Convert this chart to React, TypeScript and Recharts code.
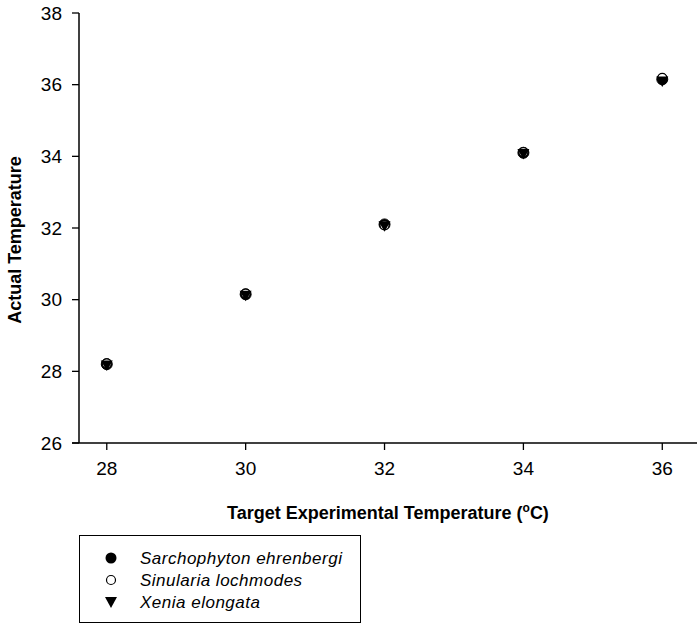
import React from "react";
import { ScatterChart, Scatter, XAxis, YAxis, ReferenceLine } from "recharts";

const targets = [28, 30, 32, 34, 36];
const sarchophyton = [28.2, 30.15, 32.1, 34.1, 36.15];
const sinularia = [28.22, 30.17, 32.08, 34.12, 36.19];
const xenia = [28.18, 30.12, 32.06, 34.08, 36.1];
const xTicks = [28, 30, 32, 34, 36];
const yTicks = [26, 28, 30, 32, 34, 36, 38];
const seriesNames = ["Sarchophyton ehrenbergi", "Sinularia lochmodes", "Xenia elongata"];

const toPoints = (vals: number[]) => targets.map((t, i) => ({ x: t, y: vals[i] }));

const FilledCircle = (p: any) => <circle cx={p.cx} cy={p.cy} r={5.5} fill="#000" stroke="#000" />;
const OpenCircle = (p: any) => <circle cx={p.cx} cy={p.cy} r={4.5} fill="#fff" stroke="#000" strokeWidth={1.2} />;
const TriDown = (p: any) => (
  <path d={`M${p.cx - 6},${p.cy - 4.5} L${p.cx + 6},${p.cy - 4.5} L${p.cx},${p.cy + 6} Z`} fill="#000" />
);

const font = "Arial, 'Liberation Sans', sans-serif";

export default function App() {
  return (
    <div style={{ position: "absolute", left: 0, top: 0, width: 698, height: 629, background: "#fff" }}>
      <ScatterChart width={698} height={629} margin={{ top: 13, right: 1, bottom: 156, left: 0 }}>
        <XAxis
          type="number"
          dataKey="x"
          domain={[27.6, 36.5]}
          ticks={xTicks}
          allowDataOverflow
          tickSize={7}
          tickMargin={12}
          height={30}
          axisLine={false}
          tickLine={{ stroke: "#000", strokeWidth: 1.3 }}
          tick={{ fill: "#000", fontSize: 19, fontFamily: font }}
        />
        <YAxis
          type="number"
          dataKey="y"
          domain={[26, 38]}
          ticks={yTicks}
          allowDataOverflow
          width={79}
          tickSize={7}
          tickMargin={10}
          axisLine={{ stroke: "#000", strokeWidth: 1.5 }}
          tickLine={{ stroke: "#000", strokeWidth: 1.3 }}
          tick={{ fill: "#000", fontSize: 19, fontFamily: font }}
        />
        <ReferenceLine
          segment={[{ x: 27.5, y: 26 }, { x: 36.5, y: 26 }]}
          stroke="#000"
          strokeWidth={1.5}
          ifOverflow="visible"
        />
        <Scatter name={seriesNames[0]} data={toPoints(sarchophyton)} shape={FilledCircle} isAnimationActive={false} />
        <Scatter name={seriesNames[1]} data={toPoints(sinularia)} shape={OpenCircle} isAnimationActive={false} />
        <Scatter name={seriesNames[2]} data={toPoints(xenia)} shape={TriDown} isAnimationActive={false} />
        <text
          x={15}
          y={240}
          transform="rotate(-90 15 240)"
          textAnchor="middle"
          dominantBaseline="central"
          fontFamily={font}
          fontWeight="bold"
          fontSize={18}
          fill="#000"
        >
          Actual Temperature
        </text>
        <text x={388} y={519} textAnchor="middle" fontFamily={font} fontWeight="bold" fontSize={18} fill="#000">
          Target Experimental Temperature (
          <tspan fontSize={12} dy={-7}>o</tspan>
          <tspan dy={7}>C)</tspan>
        </text>
      </ScatterChart>
      <div
        style={{
          position: "absolute",
          left: 79,
          top: 535,
          width: 282,
          height: 88,
          boxSizing: "border-box",
          border: "1.5px solid #000",
          fontFamily: font,
        }}
      >
        <svg width={280} height={85} style={{ position: "absolute", left: 0, top: 0 }}>
          <circle cx={31} cy={22} r={5.5} fill="#000" />
          <circle cx={31} cy={44} r={4.5} fill="#fff" stroke="#000" strokeWidth={1.2} />
          <path d="M25,61 L37,61 L31,72 Z" fill="#000" />
          {seriesNames.map((n, i) => (
            <text
              key={n}
              x={60}
              y={22 + i * 22}
              dominantBaseline="central"
              fontStyle="italic"
              fontSize={17}
              letterSpacing={0.5}
              fontFamily={font}
              fill="#000"
            >
              {n}
            </text>
          ))}
        </svg>
      </div>
    </div>
  );
}
